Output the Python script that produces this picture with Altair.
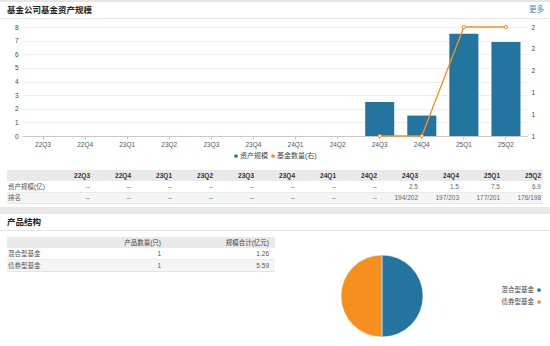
import altair as alt
import pandas as pd

# ---------------- data ----------------
quarters = ["22Q3", "22Q4", "23Q1", "23Q2", "23Q3", "23Q4",
            "24Q1", "24Q2", "24Q3", "24Q4", "25Q1", "25Q2"]
asset_scale = [None] * 8 + [2.5, 1.5, 7.5, 6.9]
fund_count = [None] * 8 + [1, 1, 2, 2]
asset_text = ["--"] * 8 + ["2.5", "1.5", "7.5", "6.9"]
rank_text = ["--"] * 8 + ["194/202", "197/203", "177/201", "176/198"]
row_labels = ["资产规模(亿)", "排名"]
series_names = ["资产规模", "基金数量(右)"]

product_types = ["混合型基金", "债券型基金"]
product_counts = [1, 1]
product_sizes = ["1.26", "5.59"]
product_headers = ["产品数量(只)", "规模合计(亿元)"]

section_titles = ["基金公司基金资产规模", "产品结构"]
more_text = "更多"

# ---------------- style ----------------
FONT = "Liberation Sans, Noto Sans CJK SC"
BLUE = "#23749f"
ORANGE = "#f5901e"
X0, Y0 = 22, 27  # plot-area origin on the page
W, H = 505, 109

one = pd.DataFrame({"k": [0]})


def rect(x1, x2, y1, y2, color):
    return alt.Chart(one).mark_rect(color=color).encode(
        x=alt.value(x1 - X0), x2=alt.value(x2 - X0),
        y=alt.value(y1 - Y0), y2=alt.value(y2 - Y0))


def label(text, x, y, size=7, color="#333", weight="normal", align="left"):
    return alt.Chart(one).mark_text(
        text=text, font=FONT, fontSize=size, color=color, fontWeight=weight,
        align=align, baseline="middle").encode(
        x=alt.value(x - X0), y=alt.value(y - Y0))


layers = []

# ---- decorations / headers ----
layers += [
    rect(0, 550, 0, 2, "#e6e6e6"),
    rect(0, 550, 18, 19, "#e4e4e4"),
    label(section_titles[0], 7, 10, size=8.5, weight="bold", color="#222"),
    label(more_text, 529, 10, size=7.5, color="#3a90b8"),
    # table 1 backgrounds
    rect(7, 543, 170, 181, "#e9e9e9"),
    rect(7, 543, 192, 203, "#f5f5f5"),
    rect(7, 543, 192, 193, "#eaeaea"),
    rect(7, 543, 203, 204, "#e4e4e4"),
    # separator band
    rect(0, 550, 207, 214, "#e8e8e8"),
    label(section_titles[1], 7, 222, size=8.5, weight="bold", color="#222"),
    rect(0, 550, 230, 231, "#e4e4e4"),
    # table 2 backgrounds
    rect(7, 275, 237, 248, "#e9e9e9"),
    rect(7, 275, 260, 271, "#f5f5f5"),
    rect(7, 275, 259, 260, "#eaeaea"),
    rect(7, 275, 271, 272, "#e4e4e4"),
]

# ---- bar + line chart ----
df = pd.DataFrame({"quarter": quarters, "asset": asset_scale, "count": fund_count})
df_bar = df.dropna(subset=["asset"])
df_line = df.dropna(subset=["count"])

x_enc = alt.X(
    "quarter:N", sort=quarters,
    scale=alt.Scale(domain=quarters, paddingInner=0.31, paddingOuter=0.155),
    axis=alt.Axis(title=None, labelAngle=0, labelFont=FONT, labelFontSize=6.5,
                  labelColor="#555", domainColor="#c8c8c8", tickColor="#c8c8c8",
                  tickSize=3, labelPadding=2, grid=False))

bars = alt.Chart(df_bar).mark_bar(color=BLUE).encode(
    x=x_enc,
    y=alt.Y("asset:Q", scale=alt.Scale(domain=[0, 8]),
            axis=alt.Axis(title=None, orient="left", values=list(range(9)),
                          grid=True, gridColor="#eeeeee", domain=False, ticks=False,
                          labelPadding=4, labelFont=FONT, labelFontSize=6.5,
                          labelColor="#444")))

line = alt.Chart(df_line).mark_line(
    color=ORANGE, strokeWidth=1.3,
    point=alt.OverlayMarkDef(filled=False, fill="white", color=ORANGE, size=10,
                             strokeWidth=1)).encode(
    x=x_enc,
    y=alt.Y("count:Q", scale=alt.Scale(domain=[1, 2], zero=False),
            axis=alt.Axis(title=None, orient="right",
                          values=[1, 1.2, 1.4, 1.6, 1.8, 2], format=".0f",
                          grid=False, domain=False, ticks=False, labelPadding=4,
                          labelFont=FONT, labelFontSize=6.5, labelColor="#444")))

layers.append(alt.layer(bars, line).resolve_scale(y="independent"))

# ---- chart legend (manual) ----
layers += [
    alt.Chart(one).mark_point(filled=True, shape="circle", size=14, color=BLUE,
                              opacity=1).encode(x=alt.value(236 - X0), y=alt.value(156 - Y0)),
    label(series_names[0], 240, 156, size=7, color="#444"),
    alt.Chart(one).mark_point(filled=True, shape="circle", size=14, color=ORANGE,
                              opacity=1).encode(x=alt.value(273 - X0), y=alt.value(156 - Y0)),
    label(series_names[1], 277, 156, size=7, color="#444"),
]

# ---- table 1 ----
t1_rows = ["h", "r1", "r2"]
t1 = []
for q, a, r in zip(quarters, asset_text, rank_text):
    t1.append({"row": "h", "col": q, "text": q})
    t1.append({"row": "r1", "col": q, "text": a})
    t1.append({"row": "r2", "col": q, "text": r})
t1 = pd.DataFrame(t1)
t1_x = alt.X("col:N", scale=alt.Scale(type="point", domain=quarters,
                                      range=[90 - X0, 541 - X0], padding=0), axis=None)
t1_y = alt.Y("row:N", scale=alt.Scale(type="point", domain=t1_rows,
                                      range=[175.5 - Y0, 198 - Y0], padding=0), axis=None)
layers.append(alt.Chart(t1[t1.row == "h"]).mark_text(
    font=FONT, fontSize=6.5, fontWeight="bold", color="#333", align="right",
    baseline="middle").encode(x=t1_x, y=t1_y, text="text:N"))
layers.append(alt.Chart(t1[t1.row != "h"]).mark_text(
    font=FONT, fontSize=6.5, color="#666", align="right",
    baseline="middle").encode(x=t1_x, y=t1_y, text="text:N"))
t1_lab = pd.DataFrame({"row": ["r1", "r2"], "text": row_labels})
layers.append(alt.Chart(t1_lab).mark_text(
    font=FONT, fontSize=6.5, color="#555", align="left", baseline="middle").encode(
    x=alt.value(8 - X0), y=t1_y, text="text:N"))

# ---- table 2 ----
t2_rows = ["h"] + product_types
t2 = [{"row": "h", "col": "c1", "text": product_headers[0]},
      {"row": "h", "col": "c2", "text": product_headers[1]}]
for t, c, s in zip(product_types, product_counts, product_sizes):
    t2.append({"row": t, "col": "c1", "text": str(c)})
    t2.append({"row": t, "col": "c2", "text": s})
t2 = pd.DataFrame(t2)
t2_x = alt.X("col:N", scale=alt.Scale(type="point", domain=["c1", "c2"],
                                      range=[161 - X0, 269 - X0], padding=0), axis=None)
t2_y = alt.Y("row:N", scale=alt.Scale(type="point", domain=t2_rows,
                                      range=[242.5 - Y0, 266 - Y0], padding=0), axis=None)
layers.append(alt.Chart(t2[t2.row == "h"]).mark_text(
    font=FONT, fontSize=6.5, color="#444", align="right",
    baseline="middle").encode(x=t2_x, y=t2_y, text="text:N"))
layers.append(alt.Chart(t2[t2.row != "h"]).mark_text(
    font=FONT, fontSize=6.5, color="#555", align="right",
    baseline="middle").encode(x=t2_x, y=t2_y, text="text:N"))
t2_lab = pd.DataFrame({"row": product_types, "text": product_types})
layers.append(alt.Chart(t2_lab).mark_text(
    font=FONT, fontSize=6.5, color="#555", align="left", baseline="middle").encode(
    x=alt.value(8 - X0), y=t2_y, text="text:N"))

# ---- pie ----
pie_df = pd.DataFrame({"type": product_types, "count": product_counts,
                       "idx": list(range(len(product_types)))})
pie_color = alt.Color("type:N", scale=alt.Scale(domain=product_types,
                                                range=[BLUE, ORANGE]), legend=None)
layers.append(alt.Chart(pie_df).mark_arc(radius=41, stroke="white", strokeWidth=0.5).encode(
    theta=alt.Theta("count:Q", stack=True),
    color=pie_color,
    order=alt.Order("idx:Q"),
    x=alt.value(382 - X0), y=alt.value(296 - Y0)))

pie_leg_y = alt.Y("type:N", scale=alt.Scale(type="point", domain=product_types,
                                            range=[290 - Y0, 302 - Y0], padding=0), axis=None)
layers.append(alt.Chart(pie_df).mark_text(
    font=FONT, fontSize=6.5, color="#444", align="right", baseline="middle").encode(
    x=alt.value(534 - X0), y=pie_leg_y, text="type:N"))
layers.append(alt.Chart(pie_df).mark_point(filled=True, shape="circle", size=14,
                                           opacity=1).encode(
    x=alt.value(539 - X0), y=pie_leg_y, color=pie_color))

chart = alt.layer(*layers).resolve_scale(
    x="independent", y="independent"
).properties(
    width=W, height=H, autosize="none",
    padding={"left": X0, "top": Y0, "right": 550 - X0 - W, "bottom": 346 - Y0 - H},
    background="white",
).configure_view(stroke=None)

chart.save("out.html", embed_options={"renderer": "svg", "actions": False})
